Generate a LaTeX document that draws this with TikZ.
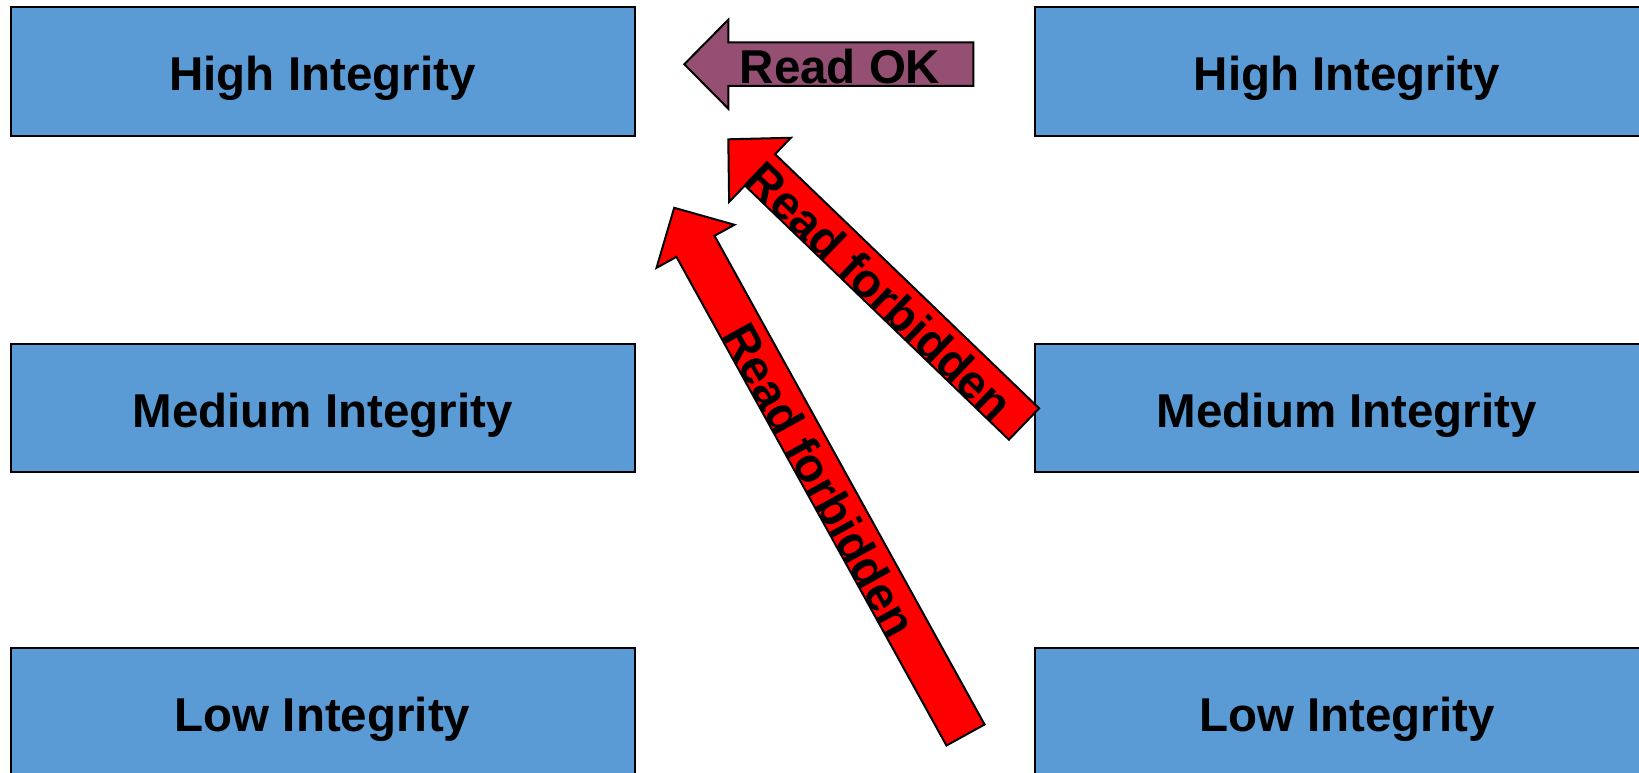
\documentclass[tikz,border=0pt]{standalone}
\usepackage{fontspec}
\setmainfont{Liberation Sans}
\usetikzlibrary{calc}
\definecolor{boxblue}{HTML}{5B9BD5}
\definecolor{okpurple}{HTML}{954F72}
\definecolor{forbred}{HTML}{FF0000}
% block arrow: #1 style, #2 tail (centre of tail end), #3 tip
\newcommand{\blockarrow}[3]{%
  \path ($(#3)!44pt!(#2)$) coordinate (hb);
  \draw[#1] ($(#2)!21.75pt!90:(#3)$) -- ($(hb)!21.75pt!90:(#3)$)
    -- ($(hb)!44.5pt!90:(#3)$) -- (#3) -- ($(hb)!44.5pt!-90:(#3)$)
    -- ($(hb)!21.75pt!-90:(#3)$) -- ($(#2)!21.75pt!-90:(#3)$) -- cycle;}
\begin{document}
\begin{tikzpicture}[x=1pt,y=-1pt,
  box/.style={draw=black, line width=2pt, fill=boxblue, rectangle,
    minimum width=624pt, minimum height=128.6pt, inner sep=0pt,
    text height=38.5pt, text depth=0pt,
    font=\fontsize{47.5}{57}\selectfont\bfseries},
  arrowshape/.style={draw=black, line width=2pt, line join=miter},
  lbl/.style={inner sep=0pt, font=\fontsize{47.5}{57}\selectfont\bfseries}]
\useasboundingbox (0,0) rectangle (1639,773);
\clip (0,0) rectangle (1639,773);
\fill[white] (0,0) rectangle (1639,773);

% levels
\node[box] (hl) at (322.5,71.6) {High Integrity};
\node[box] (ml) at (322.5,408.0) {Medium Integrity};
\node[box] (ll) at (322.5,712.3) {Low Integrity};
\node[box] (hr) at (1346.8,71.6) {High Integrity};
\node[box] (mr) at (1346.8,408.0) {Medium Integrity};
\node[box] (lr) at (1346.8,712.3) {Low Integrity};

% arrow end points
\coordinate (okT) at (973.3,64.2);
\coordinate (okP) at (684.3,64.2);
\coordinate (f1T) at (1024,424);
\coordinate (f1P) at (728.3,139.3);
\coordinate (f2T) at (965.5,735);
\coordinate (f2P) at (674.2,207.8);

\blockarrow{arrowshape, fill=okpurple}{okT}{okP}
\blockarrow{arrowshape, fill=forbred}{f1T}{f1P}
\blockarrow{arrowshape, fill=forbred}{f2T}{f2P}

% labels
\node[lbl, anchor=base] (okL) at (840,83.3) {Read OK};
\coordinate (f1M) at ($(f1T)!0.477!(f1P)$);
\coordinate (f2M) at ($(f2T)!0.487!(f2P)$);
\node[lbl, rotate=-43.9] (f1L) at ($(f1M)!4pt!90:(f1P)$) {Read forbidden};
\node[lbl, rotate=-61.1] (f2L) at ($(f2M)!4pt!90:(f2P)$) {Read forbidden};
\end{tikzpicture}
\end{document}
